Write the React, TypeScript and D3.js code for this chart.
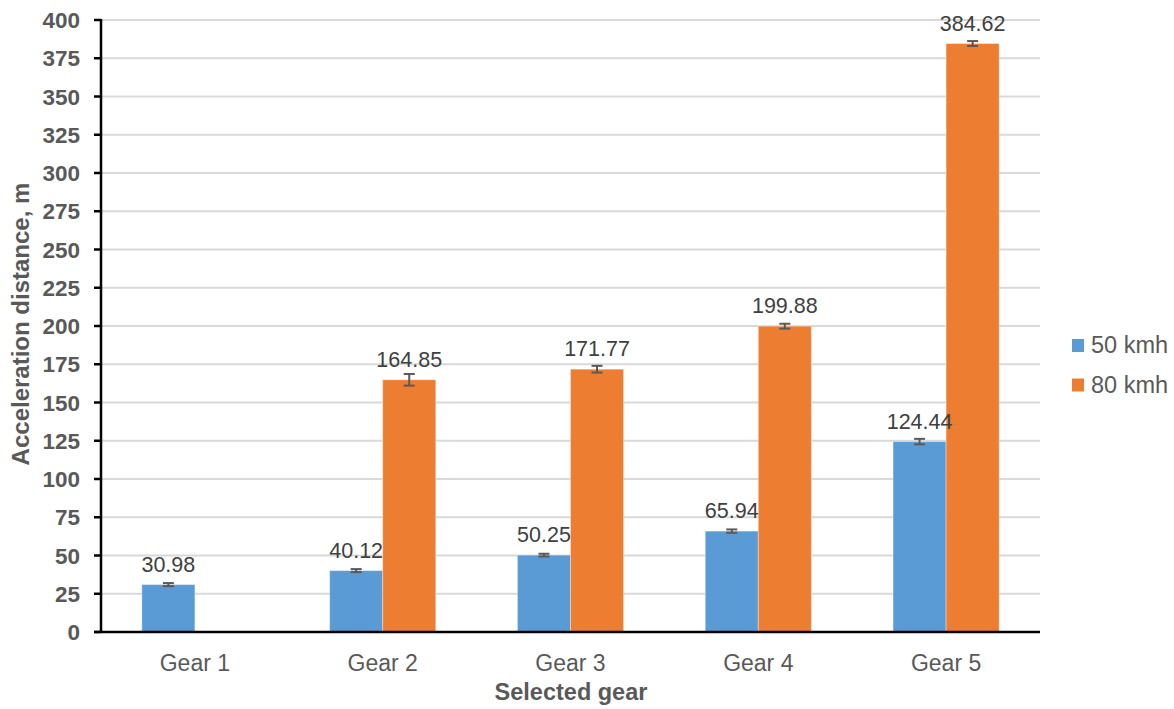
import * as d3 from 'd3';

const gears = ['Gear 1', 'Gear 2', 'Gear 3', 'Gear 4', 'Gear 5'];
const seriesNames = ['50 kmh', '80 kmh'];
const speed50 = [30.98, 40.12, 50.25, 65.94, 124.44];
const speed80: (number | null)[] = [null, 164.85, 171.77, 199.88, 384.62];
const err50 = [1.0, 1.0, 0.9, 1.1, 1.8];
const err80: (number | null)[] = [null, 3.8, 2.2, 1.6, 1.6];
const yTicks = d3.range(0, 401, 25);

const colors = ['#5B9BD5', '#ED7D31'];
const font = '"Liberation Sans", Arial, Helvetica, sans-serif';

const width = 1174;
const height = 709;
const margin = { top: 20, right: 134, bottom: 77, left: 101 };

export default function App() {
  const x0 = d3
    .scaleBand<string>()
    .domain(gears)
    .range([margin.left, width - margin.right])
    .paddingInner(0.435)
    .paddingOuter(0.2175);

  const x1 = d3.scaleBand<string>().domain(seriesNames).range([0, x0.bandwidth()]);

  const y = d3
    .scaleLinear()
    .domain([0, 400])
    .range([height - margin.bottom, margin.top]);

  const values = [speed50, speed80];
  const errors = [err50, err80];
  const plotRight = width - margin.right;
  const baseY = y(0);

  return (
    <svg
      width={width}
      height={height}
      style={{ position: 'absolute', left: 0, top: 0, background: '#fff' }}
      fontFamily={font}
    >
      {/* gridlines */}
      {yTicks
        .filter(t => t > 0)
        .map(t => (
          <line key={'g' + t} x1={margin.left} x2={plotRight} y1={y(t)} y2={y(t)} stroke="#d9d9d9" strokeWidth={2} />
        ))}

      {/* bars */}
      {seriesNames.map((s, si) =>
        gears.map((g, gi) => {
          const v = values[si][gi];
          if (v == null) return null;
          const bx = (x0(g) ?? 0) + (x1(s) ?? 0);
          return (
            <rect
              key={s + g}
              x={bx}
              y={y(v)}
              width={x1.bandwidth()}
              height={baseY - y(v)}
              fill={colors[si]}
              stroke="#ffffff"
              strokeOpacity={0.35}
              strokeWidth={1}
            />
          );
        })
      )}

      {/* error bars */}
      {seriesNames.map((s, si) =>
        gears.map((g, gi) => {
          const v = values[si][gi];
          const e = errors[si][gi];
          if (v == null || e == null) return null;
          const cx = (x0(g) ?? 0) + (x1(s) ?? 0) + x1.bandwidth() / 2;
          return (
            <g key={'e' + s + g} stroke="#595959" strokeWidth={2}>
              <line x1={cx} x2={cx} y1={y(v - e)} y2={y(v + e)} />
              <line x1={cx - 5.5} x2={cx + 5.5} y1={y(v - e)} y2={y(v - e)} />
              <line x1={cx - 5.5} x2={cx + 5.5} y1={y(v + e)} y2={y(v + e)} />
            </g>
          );
        })
      )}

      {/* data labels */}
      {seriesNames.map((s, si) =>
        gears.map((g, gi) => {
          const v = values[si][gi];
          if (v == null) return null;
          const cx = (x0(g) ?? 0) + (x1(s) ?? 0) + x1.bandwidth() / 2;
          return (
            <text key={'l' + s + g} x={cx} y={y(v) - 13} textAnchor="middle" fontSize={21.5} fill="#404040">
              {v.toFixed(2)}
            </text>
          );
        })
      )}

      {/* y axis */}
      <line x1={margin.left} x2={margin.left} y1={y(400) - 1} y2={baseY} stroke="#000" strokeWidth={2.5} />
      {yTicks.map(t => (
        <g key={'t' + t}>
          <line x1={margin.left - 7} x2={margin.left} y1={y(t)} y2={y(t)} stroke="#000" strokeWidth={2.5} />
          <text x={80} y={y(t)} dy="0.36em" textAnchor="end" fontSize={22.5} fontWeight="bold" fill="#595959">
            {t}
          </text>
        </g>
      ))}

      {/* x axis */}
      <line x1={margin.left - 7} x2={plotRight} y1={baseY} y2={baseY} stroke="#000" strokeWidth={2.5} />
      {gears.map(g => (
        <text
          key={'c' + g}
          x={(x0(g) ?? 0) + x0.bandwidth() / 2}
          y={671}
          textAnchor="middle"
          fontSize={23}
          fill="#595959"
        >
          {g}
        </text>
      ))}

      {/* axis titles */}
      <text x={571} y={700} textAnchor="middle" fontSize={23.5} fontWeight="bold" fill="#595959">
        Selected gear
      </text>
      <text
        transform={`translate(29, 324) rotate(-90)`}
        textAnchor="middle"
        fontSize={24}
        fontWeight="bold"
        fill="#595959"
      >
        Acceleration distance, m
      </text>

      {/* legend */}
      {seriesNames.map((s, si) => (
        <g key={'lg' + s} transform={`translate(1072, ${339 + si * 39.5})`}>
          <rect width={12} height={13} fill={colors[si]} />
          <text x={19} y={14} fontSize={23.5} fill="#595959">
            {s}
          </text>
        </g>
      ))}
    </svg>
  );
}
